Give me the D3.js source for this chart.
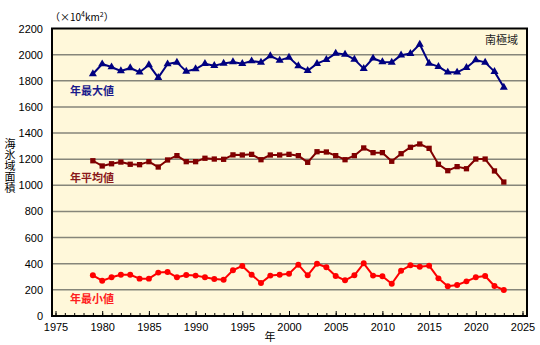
<!DOCTYPE html>
<html>
<head>
<meta charset="utf-8">
<script src="https://cdn.jsdelivr.net/npm/d3@7"></script>
<style>
  html, body { margin: 0; padding: 0; background: #ffffff; }
  svg { display: block; font-family: "Liberation Sans", Arial, sans-serif; }
</style>
</head>
<body>
<svg id="chart" width="540" height="345"></svg>
<script>
// Antarctic sea ice extent (×10^4 km²), 1979–2023
const years = d3.range(1979, 2024);

const annualMax = [
  1852, 1928, 1905, 1875, 1898, 1865, 1921, 1824, 1928, 1941,
  1872, 1890, 1931, 1915, 1933, 1944, 1931, 1951, 1941, 1990,
  1956, 1979, 1913, 1877, 1931, 1962, 2010, 2002, 1964, 1893,
  1972, 1944, 1941, 1996, 2008, 2079, 1933, 1908, 1865, 1865,
  1900, 1959, 1941, 1870, 1750
];

const annualMean = [
  1188, 1148, 1165, 1178, 1161, 1158, 1181, 1140, 1194, 1227,
  1181, 1181, 1207, 1201, 1199, 1233, 1232, 1237, 1196, 1232,
  1232, 1237, 1227, 1176, 1257, 1255, 1227, 1196, 1227, 1286,
  1250, 1250, 1184, 1242, 1291, 1316, 1283, 1161, 1112, 1143,
  1127, 1201, 1201, 1110, 1025
];

const annualMin = [
  311, 270, 296, 316, 316, 286, 286, 332, 337, 296,
  314, 309, 296, 283, 278, 350, 383, 316, 253, 309,
  316, 324, 393, 311, 400, 373, 306, 273, 311, 403,
  309, 304, 247, 347, 388, 377, 385, 288, 227, 237,
  265, 296, 306, 230, 199
];

const xTicks = d3.range(1975, 2026, 5);
const yTicks = d3.range(0, 2201, 200);

const svg = d3.select("#chart");

const plot = { left: 52, right: 527, top: 28.5, bottom: 316 };

const x = d3.scaleLinear().domain([1975, 2025]).range([55.5, 522.5]);
const y = d3.scaleLinear().domain([0, 2200]).range([plot.bottom, plot.top]);

// plot background
svg.append("rect")
  .attr("x", plot.left).attr("y", plot.top)
  .attr("width", plot.right - plot.left).attr("height", plot.bottom - plot.top)
  .attr("fill", "#fff8da");

// horizontal gridlines
svg.append("g")
  .selectAll("line")
  .data(yTicks.filter(v => v > 0 && v < 2200))
  .join("line")
  .attr("x1", plot.left).attr("x2", plot.right)
  .attr("y1", d => y(d)).attr("y2", d => y(d))
  .attr("stroke", "#86867a").attr("stroke-width", 1.5);

// y axis labels
const yAxis = d3.axisLeft(y).tickValues(yTicks).tickSize(0).tickPadding(9).tickFormat(d3.format("d"));
svg.append("g")
  .attr("transform", `translate(${plot.left},0)`)
  .call(yAxis)
  .call(g => g.select(".domain").remove())
  .call(g => g.selectAll("text").attr("font-size", 11).attr("fill", "#000")
    .attr("font-family", "'Liberation Sans', Arial, sans-serif"));

// x axis: minor ticks every year, labels every 5 years (ticks point inward)
const xMinor = d3.axisTop(x).tickValues(d3.range(1975, 2026)).tickSize(3).tickFormat("");
svg.append("g")
  .attr("transform", `translate(0,${plot.bottom})`)
  .call(xMinor)
  .call(g => g.select(".domain").remove())
  .call(g => g.selectAll("line").attr("stroke", "#000"));

const xMajor = d3.axisTop(x).tickValues(xTicks).tickSize(5).tickFormat("");
svg.append("g")
  .attr("transform", `translate(0,${plot.bottom})`)
  .call(xMajor)
  .call(g => g.select(".domain").remove())
  .call(g => g.selectAll("line").attr("stroke", "#000"));

const xLabels = d3.axisBottom(x).tickValues(xTicks).tickSize(0).tickPadding(7).tickFormat(d3.format("d"));
svg.append("g")
  .attr("transform", `translate(0,${plot.bottom})`)
  .call(xLabels)
  .call(g => g.select(".domain").remove())
  .call(g => g.selectAll("text").attr("font-size", 11).attr("fill", "#000")
    .attr("font-family", "'Liberation Sans', Arial, sans-serif"));

// plot frame
svg.append("rect")
  .attr("x", plot.left).attr("y", plot.top)
  .attr("width", plot.right - plot.left).attr("height", plot.bottom - plot.top)
  .attr("fill", "none").attr("stroke", "#000").attr("stroke-width", 2);

// series
const line = d3.line().x((d, i) => x(years[i])).y(d => y(d));

function drawSeries(values, color, symbolType, size) {
  const g = svg.append("g");
  g.append("path")
    .datum(values)
    .attr("d", line)
    .attr("fill", "none")
    .attr("stroke", color)
    .attr("stroke-width", 2)
    .attr("stroke-linejoin", "round");
  g.selectAll("path.marker")
    .data(values)
    .join("path")
    .attr("class", "marker")
    .attr("transform", (d, i) => `translate(${x(years[i])},${y(d)})`)
    .attr("d", d3.symbol().type(symbolType).size(size))
    .attr("fill", color);
}

drawSeries(annualMax, "#000080", d3.symbolTriangle, 28);
drawSeries(annualMean, "#800000", d3.symbolSquare, 28);
drawSeries(annualMin, "#ff0000", d3.symbolCircle, 28);

// series labels
const labelFont = "'Noto Sans CJK JP', sans-serif";
svg.append("text").attr("x", 70).attr("y", 95).text("年最大値")
  .attr("fill", "#1a1a8c").attr("font-size", 11).attr("font-weight", "bold").attr("font-family", labelFont);
svg.append("text").attr("x", 70).attr("y", 182).text("年平均値")
  .attr("fill", "#8b1a1a").attr("font-size", 11).attr("font-weight", "bold").attr("font-family", labelFont);
svg.append("text").attr("x", 70).attr("y", 303).text("年最小値")
  .attr("fill", "#ff2020").attr("font-size", 11).attr("font-weight", "bold").attr("font-family", labelFont);

// region label
svg.append("text").attr("x", 518).attr("y", 44).attr("text-anchor", "end").text("南極域")
  .attr("fill", "#222").attr("font-size", 11).attr("font-family", labelFont);

// unit label
const unit = svg.append("text").attr("x", 50).attr("y", 21)
  .attr("font-size", 10).attr("fill", "#000").attr("font-family", labelFont);
unit.append("tspan").text("（×10");
unit.append("tspan").attr("font-size", 7).attr("dy", -4).text("4");
unit.append("tspan").attr("dy", 4).text("km");
unit.append("tspan").attr("font-size", 7).attr("dy", -4).text("2");
unit.append("tspan").attr("dy", 4).text("）");

// y axis title, vertical with upright glyphs
svg.append("text")
  .attr("x", 10)
  .attr("y", 138)
  .attr("font-size", 11)
  .attr("font-family", labelFont)
  .attr("fill", "#000")
  .style("writing-mode", "vertical-rl")
  .style("text-orientation", "upright")
  .text("海氷域面積");

// x axis title
svg.append("text").attr("x", 270).attr("y", 341).attr("text-anchor", "middle")
  .attr("font-size", 11).attr("font-family", labelFont).attr("fill", "#000").text("年");
</script>
</body>
</html>
